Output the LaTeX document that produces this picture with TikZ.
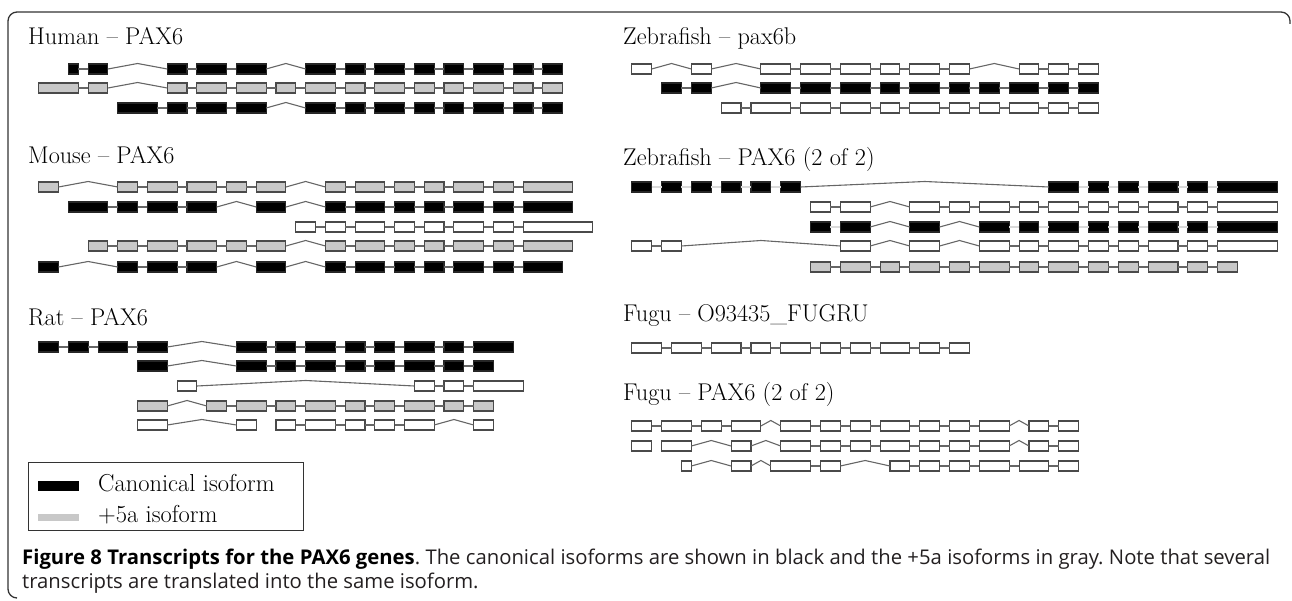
\documentclass[tikz,border=0pt]{standalone}
\usepackage{fontspec}
\newfontfamily\capfont{Open Sans}
\usetikzlibrary{calc}
\definecolor{exgray}{HTML}{C8C8C8}
\definecolor{exline}{HTML}{4A4A4A}
\definecolor{connc}{HTML}{666666}
\definecolor{faintc}{HTML}{DADADA}
\definecolor{framec}{HTML}{333333}
\definecolor{capc}{HTML}{231F20}
\newsavebox\capboxA
\newdimen\capwd
\tikzset{
  exon/.style={rectangle, inner sep=0pt, outer sep=0pt, minimum height=10pt, line width=1.1pt},
  blk/.style={exon, fill=black, draw=black!85},
  gry/.style={exon, fill=exgray, draw=exline},
  wht/.style={exon, fill=white, draw=exline},
  conn/.style={draw=connc, line width=1.1pt},
  faint/.style={draw=faintc, line width=1.1pt},
  ttl/.style={anchor=base west, inner sep=0pt, font=\fontsize{24.2}{28}\selectfont},
  lgd/.style={anchor=base west, inner sep=0pt, font=\fontsize{24.5}{28}\selectfont},
  captxt/.style={anchor=base west, inner sep=0pt, text=capc},
}
% #1 prefix, #2 y, #3 style, #4 origin, #5 unit, #6 list a/b/type
\newcommand{\trk}[6]{%
  \foreach \xa/\xb/\ty [count=\i] in {#6} {
    \pgfmathsetmacro\xl{#4+\xa*#5}
    \pgfmathsetmacro\ww{(\xb-\xa)*#5}
    \node[#3, minimum width=\ww pt, anchor=west] (#1-\i) at (\xl,#2) {};
    \ifnum\i>1
      \pgfmathtruncatemacro\j{\i-1}
      \if\ty s\draw[conn] (#1-\j.east) -- (#1-\i.west);\fi
      \if\ty f\draw[faint] (#1-\j.east) -- (#1-\i.west);\fi
      \if\ty c\draw[conn] (#1-\j.east) -- ($(#1-\j.east)!.5!(#1-\i.west)+(0,-5.5)$) -- (#1-\i.west);\fi
    \fi
  }%
}
\newcommand{\capone}{\textbf{\color{black}Figure 8 Transcripts for the PAX6 genes}. The canonical isoforms are shown in black and the +5a isoforms in gray. Note that several}
\begin{document}
\sbox\capboxA{\capfont\fontsize{17}{20}\selectfont\frenchspacing\capone}%
\capwd=\wd\capboxA
\pgfmathsetmacro\capsize{(1246/\the\capwd)*17}%
\begin{tikzpicture}[x=1pt,y=-1pt]
\useasboundingbox (0,0) rectangle (1292,601);
% frame
\draw[framec, line width=1.3pt, rounded corners=9pt] (1290,24) -- (1290,12) -- (8,12) -- (8,598) -- (17,598);
\def\LO{-0.8}\def\LU{9.885}
\def\RO{602}\def\RU{9.93}
% Human
\node[ttl] (thuman) at (28,45) {Human -- PAX6};
\trk{ha}{69}{blk}{\LO}{\LU}{7/8/s,9/11/s,17/19/c,20/23/s,24/27/s,31/34/c,35/37/s,38/41/s,42/44/s,45/47/s,48/51/s,52/54/s,55/57/s}
\trk{hb}{88}{gry}{\LO}{\LU}{4/8/s,9/11/s,17/19/c,20/23/s,24/27/s,28/30/s,31/34/s,35/37/s,38/41/s,42/44/s,45/47/s,48/51/s,52/54/s,55/57/s}
\trk{hc}{108}{blk}{\LO}{\LU}{12/16/s,17/19/s,20/23/s,24/27/s,31/34/c,35/37/s,38/41/s,42/44/s,45/47/s,48/51/s,52/54/s,55/57/s}
% Mouse
\node[ttl] (tmouse) at (28,164) {Mouse -- PAX6};
\trk{ma}{187}{gry}{\LO}{\LU}{4/6/s,12/14/c,15/18/s,19/22/s,23/25/s,26/29/s,33/35/c,36/39/s,40/42/s,43/45/s,46/49/s,50/52/s,53/58/s}
\trk{mb}{207}{blk}{\LO}{\LU}{7/11/s,12/14/s,15/18/s,19/22/s,26/29/c,33/35/c,36/39/s,40/42/s,43/45/s,46/49/s,50/52/s,53/58/s}
\trk{mc}{227}{wht}{\LO}{\LU}{30/32/s,33/35/s,36/39/s,40/42/s,43/45/s,46/49/s,50/52/s,53/60/s}
\trk{md}{246}{gry}{\LO}{\LU}{9/11/s,12/14/s,15/18/s,19/22/s,23/25/s,26/29/s,33/35/c,36/39/s,40/42/s,43/45/s,46/49/s,50/52/s,53/58/s}
\trk{me}{267}{blk}{\LO}{\LU}{4/6/s,12/14/c,15/18/s,19/22/s,26/29/c,33/35/c,36/39/s,40/42/s,43/45/s,46/49/s,50/52/s,53/57/s}
% Rat
\node[ttl] (trat) at (28,326) {Rat -- PAX6};
\trk{ra}{347}{blk}{\LO}{\LU}{4/6/s,7/9/s,10/13/s,14/17/s,24/27/c,28/30/s,31/34/s,35/37/s,38/40/s,41/44/s,45/47/s,48/52/s}
\trk{rb}{366}{blk}{\LO}{\LU}{14/17/s,24/27/c,28/30/s,31/34/s,35/37/s,38/40/s,41/44/s,45/47/s,48/50/s}
\trk{rc}{386}{wht}{\LO}{\LU}{18/20/s,42/44/c,45/47/s,48/53/s}
\trk{rd}{406}{gry}{\LO}{\LU}{14/17/s,21/23/c,24/27/s,28/30/s,31/34/s,35/37/s,38/40/s,41/44/s,45/47/s,48/50/s}
\trk{re}{425}{wht}{\LO}{\LU}{14/17/s,24/26/c,28/30/n,31/34/s,35/37/s,38/40/s,41/44/s,48/50/c}
% Zebrafish pax6b
\node[ttl] (tzb) at (623,45) {Zebrafish -- pax6b};
\trk{za}{69}{wht}{\RO}{\RU}{3/5/s,9/11/c,16/19/c,20/23/s,24/27/s,28/30/s,31/34/s,35/37/s,42/44/c,45/47/s,48/50/s}
\trk{zb}{88}{blk}{\RO}{\RU}{6/8/s,9/11/s,16/19/c,20/23/s,24/27/s,28/30/s,31/34/s,35/37/s,38/40/s,41/44/s,45/47/s,48/50/s}
\trk{zc}{108}{wht}{\RO}{\RU}{12/14/s,15/19/s,20/23/s,24/27/s,28/30/s,31/34/s,35/37/s,38/40/s,41/44/s,45/47/s,48/50/s}
% Zebrafish PAX6
\node[ttl] (tzp) at (623,166) {Zebrafish -- PAX6 (2 of 2)};
\trk{pa}{187}{blk}{\RO}{\RU}{3/5/f,6/8/f,9/11/f,12/14/f,15/17/f,18/20/f,45/48/c,49/51/f,52/54/f,55/58/f,59/61/f,62/68/f}
\trk{pb}{207}{wht}{\RO}{\RU}{21/23/s,24/27/s,31/34/c,35/37/s,38/41/s,42/44/s,45/48/s,49/51/s,52/54/s,55/58/s,59/61/s,62/68/s}
\trk{pc}{227}{blk}{\RO}{\RU}{21/23/f,24/27/f,31/34/c,38/41/c,42/44/f,45/48/f,49/51/f,52/54/f,55/58/f,59/61/f,62/68/f}
\trk{pd}{246}{wht}{\RO}{\RU}{3/5/s,6/8/s,24/27/c,31/34/c,38/41/c,42/44/s,45/48/s,49/51/s,52/54/s,55/58/s,59/61/s,62/68/s}
\trk{pe}{267}{gry}{\RO}{\RU}{21/23/s,24/27/s,28/30/s,31/34/s,35/37/s,38/41/s,42/44/s,45/48/s,49/51/s,52/54/s,55/58/s,59/61/s,62/64/s}
% Fugu O93435
\node[ttl] (tfo) at (623,321) {Fugu -- O93435\_FUGRU};
\trk{fa}{348}{wht}{\RO}{\RU}{3/6/s,7/10/s,11/14/s,15/17/s,18/21/s,22/24/s,25/27/s,28/31/s,32/34/s,35/37/s}
% Fugu PAX6
\node[ttl] (tfp) at (623,400) {Fugu -- PAX6 (2 of 2)};
\trk{ga}{426}{wht}{\RO}{\RU}{3/5/s,6/9/s,10/12/s,13/16/s,18/21/c,22/24/s,25/27/s,28/31/s,32/34/s,35/37/s,38/41/s,43/45/c,46/48/s}
\trk{gb}{446}{wht}{\RO}{\RU}{3/5/s,6/9/n,13/15/c,18/21/c,22/24/s,25/27/s,28/31/s,32/34/s,35/37/s,38/41/s,43/45/c,46/48/s}
\trk{gc}{466}{wht}{\RO}{\RU}{8/9/s,13/15/c,17/21/c,22/24/s,29/31/c,32/34/s,35/37/s,38/41/s,42/45/s,46/48/s}
% Legend
\node[draw=black!80, line width=1pt, minimum width=275pt, minimum height=68pt, anchor=north west, inner sep=0pt] (legend) at (28,462) {};
\node[fill=black, minimum width=41pt, minimum height=10pt, inner sep=0pt, anchor=west] (swb) at (38,486) {};
\node[fill=exgray, minimum width=41pt, minimum height=7pt, inner sep=0pt, anchor=west] (swg) at (38,517) {};
\node[lgd] (lcan) at (98,491) {Canonical isoform};
\node[lgd] (l5a) at (98,522) {+5a isoform};
% Caption
\node[captxt] (cap1) at (22,564) {\capfont\fontsize{\capsize}{20}\selectfont\frenchspacing\makebox[1248pt][s]{\capone}};
\node[captxt] (cap2) at (22,588) {\capfont\fontsize{\capsize}{20}\selectfont\frenchspacing transcripts are translated into the same isoform.};
\end{tikzpicture}
\end{document}
